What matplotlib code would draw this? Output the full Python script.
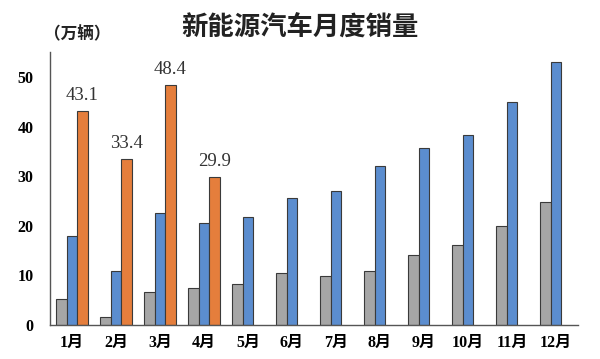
import matplotlib
matplotlib.use('Agg')
import matplotlib.pyplot as plt
import numpy as np

plt.rcParams['font.family'] = ['Noto Sans CJK SC', 'DejaVu Sans']
serif = ['Liberation Serif', 'Noto Sans CJK SC']

months = ['1月', '2月', '3月', '4月', '5月', '6月', '7月', '8月', '9月', '10月', '11月', '12月']
sales_2020 = [5.2, 1.6, 6.6, 7.4, 8.2, 10.4, 9.8, 10.9, 14.2, 16.1, 20.0, 24.7]
sales_2021 = [18.0, 10.9, 22.6, 20.6, 21.7, 25.6, 27.1, 32.1, 35.7, 38.3, 45.0, 53.0]
sales_2022 = [43.1, 33.4, 48.4, 29.9]
yticks = [0, 10, 20, 30, 40, 50]

fig = plt.figure(figsize=(6, 3.59), dpi=100)
ax = fig.add_axes([0.0833, 0.0947, 0.88, 0.76])

x = np.arange(len(months))
w = 0.24
ec = '#3a3a3a'
ax.bar(x - w, sales_2020, w, color='#a6a6a6', edgecolor=ec, linewidth=0.8)
ax.bar(x, sales_2021, w, color='#5b8dcf', edgecolor=ec, linewidth=0.8)
x22 = x[:len(sales_2022)] + w
ax.bar(x22, sales_2022, w, color='#e57e3c', edgecolor=ec, linewidth=0.8)
for xi, v in zip(x22, sales_2022):
    ax.annotate(f'{v:.1f}', (xi, v), xytext=(0, 5), textcoords='offset points',
                ha='center', va='bottom', fontsize=13.5, color='#333333',
                family=serif)

ax.set_xlim(-0.5, 11.5)
ax.set_ylim(0, 55)
ax.set_xticks(x)
ax.set_xticklabels(months, fontsize=11.5, fontweight='bold', family=serif)
ax.set_yticks(yticks)
ax.set_yticklabels([str(t) for t in yticks], fontsize=11.5, fontweight='bold',
                   family=serif)
ax.tick_params(length=0)
ax.tick_params(axis='y', pad=12)
ax.tick_params(axis='x', pad=7)
for s in ['top', 'right']:
    ax.spines[s].set_visible(False)
for s in ['left', 'bottom']:
    ax.spines[s].set_color('#555555')
    ax.spines[s].set_linewidth(1.0)

fig.text(0.5, 0.922, '新能源汽车月度销量', ha='center', va='center',
         fontsize=19, fontweight='bold', color='#222222')
fig.text(0.128, 0.903, '（万辆）', ha='center', va='center',
         fontsize=12, fontweight='bold', color='#222222')

fig.savefig('out.png', dpi=100)
